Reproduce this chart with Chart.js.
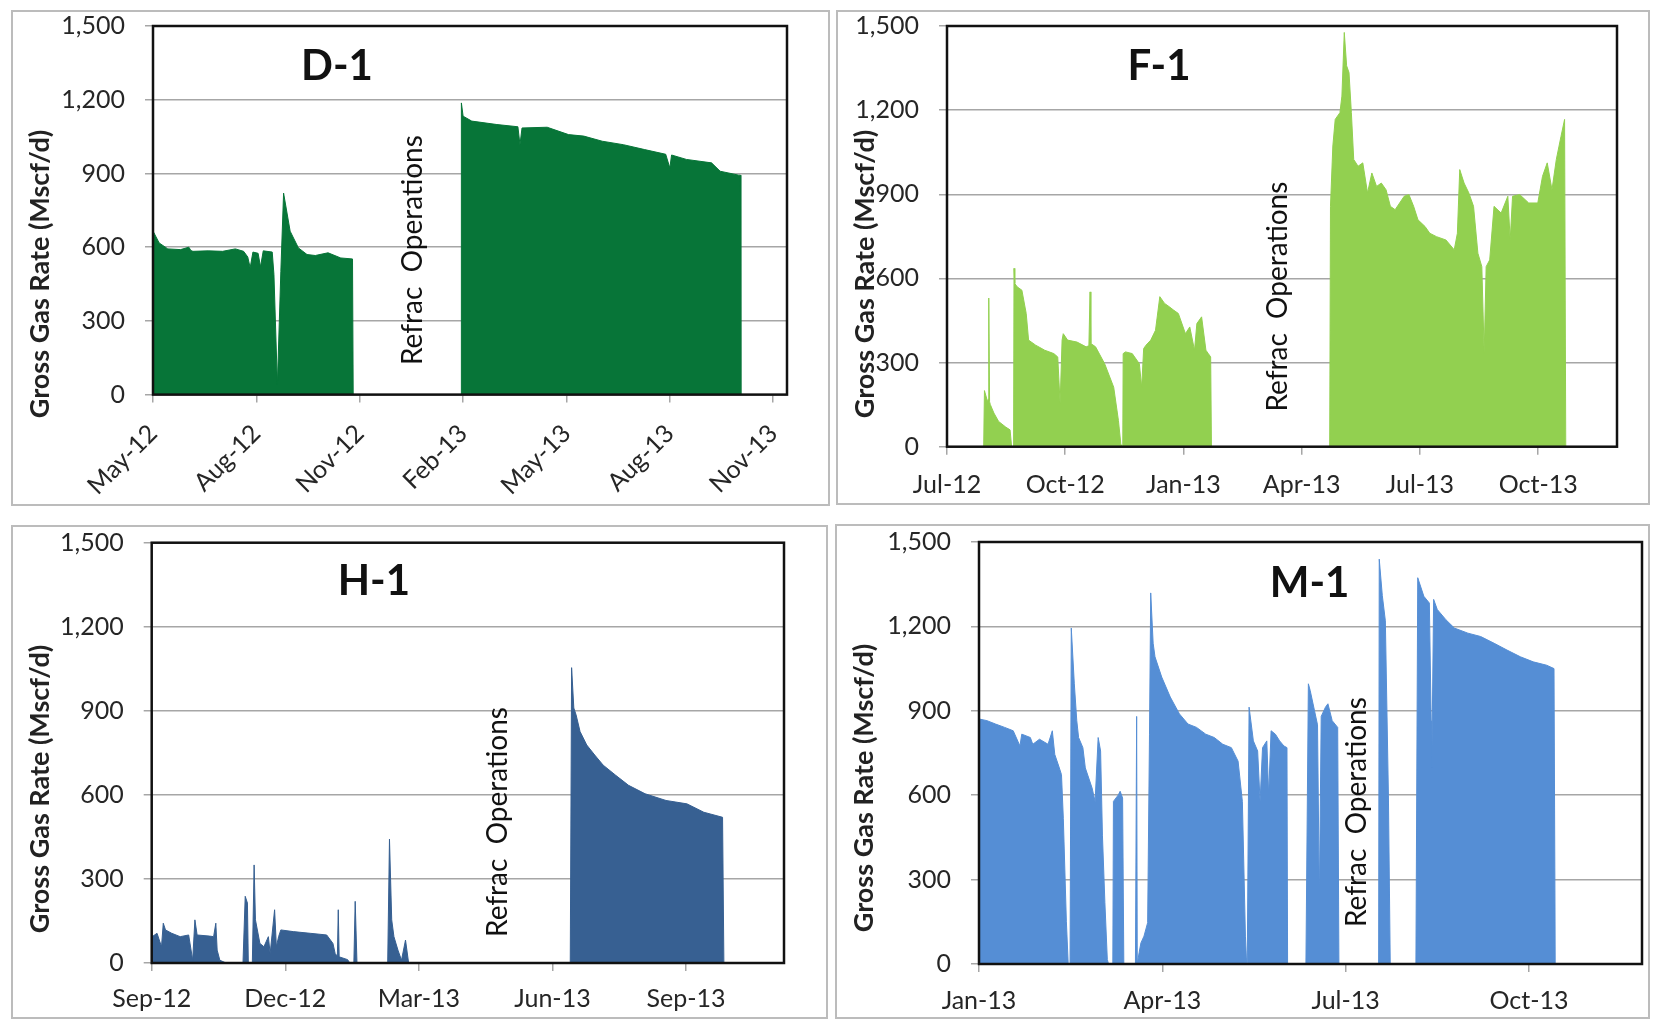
<!DOCTYPE html>
<html>
<head>
<meta charset="utf-8">
<script src="https://cdn.jsdelivr.net/npm/chart.js@4.4.1/dist/chart.umd.min.js"></script>
<style>
body{margin:0;background:#fff;width:1654px;height:1020px;position:relative;overflow:hidden}
.box{position:absolute}
.frame{position:absolute;box-sizing:border-box;border:2px solid #bcbcbc;pointer-events:none}
</style>
</head>
<body>
<div class="box" style="left:11px;top:10px;width:819px;height:496px"><canvas id="d1"></canvas></div>
<div class="box" style="left:836px;top:10px;width:814px;height:495px"><canvas id="f1"></canvas></div>
<div class="box" style="left:11px;top:525px;width:817px;height:494px"><canvas id="h1"></canvas></div>
<div class="box" style="left:835px;top:524px;width:815px;height:495px"><canvas id="m1"></canvas></div>
<div class="frame" style="left:11px;top:10px;width:819px;height:496px"></div>
<div class="frame" style="left:836px;top:10px;width:814px;height:495px"></div>
<div class="frame" style="left:11px;top:525px;width:817px;height:494px"></div>
<div class="frame" style="left:835px;top:524px;width:815px;height:495px"></div>
<script>
// months counted from the first tick of each panel, gas rate in Mscf/d

const d1Ticks = ['May-12','Aug-12','Nov-12','Feb-13','May-13','Aug-13','Nov-13']
const d1Month = [0,0.02,0.18,0.43,0.8,1.04,1.1,1.16,1.6,2.02,2.39,2.63,2.75,2.82,2.9,3.05,3.12,3.2,3.46,3.51,3.61,3.71,3.79,3.98,4.22,4.47,4.71,5.08,5.45,5.79,5.81,8.94,8.95,9.0,9.25,9.98,10.59,10.65,10.71,11.44,12.06,12.5,13.04,13.65,14.27,14.88,15.0,15.05,15.48,16.21,16.46,17.0,17.05,17.06]
const d1Rate = [0,660,617,593,590,600,586,583,585,583,593,583,560,516,580,575,520,585,580,488,40,500,820,665,597,570,566,577,556,552,0,0,1187,1133,1113,1099,1090,1017,1085,1088,1058,1052,1031,1017,997,978,922,975,957,943,909,893,893,0]

const f1Ticks = ['Jul-12','Oct-12','Jan-13','Apr-13','Jul-13','Oct-13']
const f1Month = [0.93,0.95,1.03,1.05,1.06,1.08,1.1,1.19,1.31,1.49,1.6,1.64,1.69,1.7,1.72,1.78,1.9,2.01,2.07,2.25,2.48,2.71,2.81,2.87,2.92,2.95,3.06,3.3,3.53,3.6,3.63,3.65,3.77,4.0,4.23,4.35,4.41,4.44,4.46,4.47,4.53,4.7,4.88,4.94,4.99,5.05,5.17,5.29,5.4,5.52,5.64,5.75,5.87,6.05,6.16,6.28,6.34,6.46,6.57,6.63,6.69,6.71,9.71,9.73,9.79,9.85,9.97,10.02,10.08,10.14,10.2,10.26,10.32,10.43,10.55,10.67,10.78,10.9,11.02,11.14,11.25,11.37,11.6,11.72,11.84,11.95,12.13,12.25,12.42,12.66,12.87,12.95,13.01,13.12,13.24,13.36,13.47,13.57,13.63,13.68,13.77,13.88,14.06,14.23,14.29,14.35,14.53,14.76,14.99,15.11,15.23,15.35,15.46,15.58,15.67,15.7]
const f1Rate = [0,200,160,170,530,160,150,120,90,70,60,0,0,636,582,570,558,475,380,362,344,332,320,153,380,403,380,373,356,360,552,368,356,296,212,93,10,0,0,332,338,332,296,212,350,362,380,415,535,511,499,487,475,403,427,344,439,463,344,332,320,0,0,857,1072,1167,1191,1250,1477,1358,1334,1191,1024,1000,1012,905,976,928,940,916,857,845,893,899,857,809,785,761,749,737,702,761,988,940,905,857,690,642,332,642,666,857,833,893,737,893,899,869,869,964,1012,916,1024,1107,1167,0]

const h1Ticks = ['Sep-12','Dec-12','Mar-13','Jun-13','Sep-13']
const h1Month = [0,0.01,0.12,0.22,0.26,0.31,0.45,0.64,0.83,0.92,0.97,1.02,1.3,1.39,1.44,1.47,1.53,1.67,2.05,2.1,2.15,2.17,2.26,2.3,2.33,2.43,2.52,2.62,2.66,2.76,2.8,2.85,2.9,3.18,3.56,3.93,4.07,4.12,4.17,4.19,4.21,4.4,4.45,4.54,4.57,4.61,5.3,5.34,5.39,5.44,5.53,5.61,5.7,5.77,9.4,9.43,9.48,9.53,9.62,9.77,9.95,10.14,10.42,10.71,11.08,11.55,12.02,12.4,12.82,12.85]
const h1Rate = [0,94,106,58,142,118,106,94,100,10,154,100,96,94,142,46,10,0,0,238,214,0,0,350,154,70,58,94,34,190,58,94,118,112,106,100,70,34,24,190,22,12,0,0,220,0,0,442,154,94,46,10,82,0,0,1054,910,886,826,778,742,706,670,634,604,580,568,538,520,0]

const m1Ticks = ['Jan-13','Apr-13','Jul-13','Oct-13']
const m1Month = [0,0.13,0.27,0.42,0.56,0.67,0.7,0.84,0.88,0.99,1.13,1.2,1.24,1.31,1.35,1.38,1.43,1.46,1.49,1.51,1.56,1.6,1.63,1.7,1.74,1.85,1.9,1.95,1.99,2.02,2.06,2.1,2.12,2.19,2.2,2.28,2.31,2.35,2.37,2.56,2.58,2.59,2.62,2.65,2.7,2.76,2.79,2.81,2.85,2.88,2.99,3.13,3.28,3.42,3.56,3.71,3.85,3.99,4.13,4.24,4.31,4.36,4.38,4.39,4.42,4.49,4.56,4.6,4.64,4.71,4.74,4.78,4.85,4.92,4.99,5.04,5.05,5.35,5.39,5.42,5.49,5.54,5.57,5.6,5.67,5.71,5.78,5.87,5.89,6.54,6.55,6.6,6.65,6.7,6.73,7.15,7.18,7.28,7.37,7.4,7.41,7.44,7.5,7.64,7.78,8.0,8.21,8.43,8.64,8.86,9.07,9.29,9.41,9.43]
const m1Rate = [871,865,853,841,829,775,817,805,781,799,781,829,745,700,673,518,150,0,0,1194,996,865,805,769,697,626,578,805,757,458,219,16,0,0,578,601,614,590,0,0,880,0,40,75,99,147,817,1319,1140,1092,1020,949,889,853,841,817,805,781,769,721,578,99,0,0,913,793,757,578,769,793,601,829,817,793,775,769,0,0,996,972,901,850,220,880,913,925,865,841,0,0,1439,1310,1220,600,0,0,1373,1307,1283,865,700,1296,1260,1224,1194,1176,1164,1140,1116,1092,1074,1062,1050,0]

const rateTicks = [0, 300, 600, 900, 1200, 1500]

// frame around the plot, well name, refrac note and the y title
const wellText = {
  id: 'wellText',
  afterDatasetsDraw(chart, args, o) {
    const {ctx, chartArea: a, scales: {x, y}} = chart
    ctx.save()
    ctx.strokeStyle = '#111'
    ctx.lineWidth = 2.5
    ctx.strokeRect(a.left, a.top, a.right - a.left, a.bottom - a.top)
    ctx.textAlign = 'center'
    ctx.textBaseline = 'middle'
    ctx.fillStyle = '#111'
    ctx.font = 'bold 42px Lato'
    ctx.fillText(o.name, x.getPixelForValue(o.nameAt[0]), y.getPixelForValue(o.nameAt[1]))

    ctx.save()
    ctx.translate(x.getPixelForValue(o.refracAt[0]), y.getPixelForValue(o.refracAt[1]))
    ctx.rotate(-Math.PI / 2)
    ctx.font = '28px Lato'
    ctx.fillText('Refrac  Operations', 0, 0)
    ctx.restore()

    ctx.save()
    ctx.translate(o.titleAt[0], o.titleAt[1])
    ctx.rotate(-Math.PI / 2)
    ctx.font = 'bold 27px Lato'
    ctx.fillStyle = '#222'
    ctx.fillText('Gross Gas Rate (Mscf/d)', 0, 0)
    ctx.restore()
    ctx.restore()
  }
}

function drawWell(id, name, months, rates, color, tickNames, xMax, box) {
  const tickFont = {family: 'Lato', size: 25}
  new Chart(document.getElementById(id), {
    type: 'line',
    data: {
      datasets: [{
        data: months.map((m, i) => ({x: m, y: rates[i]})),
        fill: 'origin',
        backgroundColor: color,
        borderColor: color,
        borderWidth: 1,
        pointRadius: 0,
        tension: 0
      }]
    },
    options: {
      responsive: true,
      maintainAspectRatio: false,
      animation: false,
      layout: {padding: {top: box.top, right: box.right, left: 0, bottom: 0}},
      plugins: {
        legend: {display: false},
        tooltip: {enabled: false},
        wellText: {name: name, nameAt: box.nameAt, refracAt: box.refracAt, titleAt: [29, 264]}
      },
      scales: {
        x: {
          type: 'linear',
          min: 0,
          max: xMax,
          afterBuildTicks: s => { s.ticks = tickNames.map((_, i) => ({value: i * 3})) },
          afterFit: s => {
            s.height = box.xh
            s.paddingLeft = 0
            s.paddingRight = 0
          },
          ticks: {
            autoSkip: false,
            minRotation: box.rot,
            maxRotation: box.rot,
            padding: box.xpad,
            color: '#262626',
            font: tickFont,
            callback: v => tickNames[Math.round(v / 3)]
          },
          grid: {drawOnChartArea: false, color: '#a6a6a6', lineWidth: 1.5, tickLength: 8},
          border: {display: false}
        },
        y: {
          min: 0,
          max: 1500,
          afterBuildTicks: s => { s.ticks = rateTicks.map(v => ({value: v})) },
          afterFit: s => {
            s.width = box.left
            s.paddingTop = 0
            s.paddingBottom = 0
          },
          ticks: {
            padding: 20,
            color: '#262626',
            font: tickFont,
            callback: v => v.toLocaleString('en-US')
          },
          grid: {color: '#a6a6a6', lineWidth: 1.5, tickLength: 8},
          border: {display: false}
        }
      }
    },
    plugins: [wellText]
  })
}

drawWell('d1', 'D-1', d1Month, d1Rate, '#077538', d1Ticks, 18.4,
  {left: 142, right: 43, top: 16, xh: 111.4, rot: 45, xpad: 16, nameAt: [5.34, 1337], refracAt: [7.55, 588]})
drawWell('f1', 'F-1', f1Month, f1Rate, '#92D050', f1Ticks, 17.0,
  {left: 111, right: 33, top: 16, xh: 58.3, rot: 0, xpad: 15, nameAt: [5.38, 1357], refracAt: [8.39, 535]})
drawWell('h1', 'H-1', h1Month, h1Rate, '#376092', h1Ticks, 14.2,
  {left: 140.7, right: 44, top: 17.7, xh: 56, rot: 0, xpad: 13, nameAt: [4.99, 1360], refracAt: [7.77, 503]})
drawWell('m1', 'M-1', m1Month, m1Rate, '#558ED5', m1Ticks, 10.85,
  {left: 144, right: 8, top: 18, xh: 55, rot: 0, xpad: 14, nameAt: [5.41, 1351], refracAt: [6.19, 540]})
</script>
</body>
</html>
